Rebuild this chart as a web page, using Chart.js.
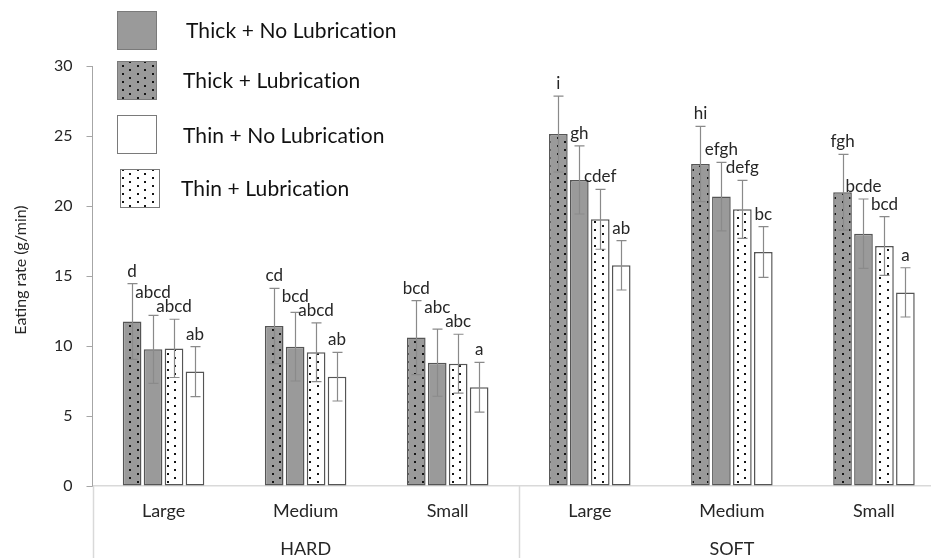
<!DOCTYPE html>
<html><head><meta charset="utf-8">
<script src="https://cdn.jsdelivr.net/npm/chart.js@4.4.1/dist/chart.umd.min.js"></script>
<style>
html,body{margin:0;padding:0;overflow:hidden;background:#fff;width:931px;height:558px}
canvas{display:block}
</style></head>
<body>
<canvas id="c" width="948" height="558"></canvas>
<script>
// ---- data ----
const categories = ['Large', 'Medium', 'Small', 'Large', 'Medium', 'Small'];
const groupNames = ['HARD', 'SOFT'];
const groupSizes = [3, 3];
const seriesNames = ['Thick + No Lubrication', 'Thick + Lubrication', 'Thin + No Lubrication', 'Thin + Lubrication'];
const yTicks = [0, 5, 10, 15, 20, 25, 30];
const yTitle = 'Eating rate (g/min)';

const thickLub = [11.75, 11.43, 10.60, 25.14, 23.00, 20.98];
const thickNoLub = [9.76, 9.95, 8.81, 21.86, 20.67, 18.02];
const thinLub = [9.83, 9.55, 8.74, 19.05, 19.76, 17.14];
const thinNoLub = [8.17, 7.81, 7.05, 15.76, 16.71, 13.83];

const thickLubErr = [2.70, 2.69, 2.64, 2.71, 2.69, 2.71];
const thickNoLubErr = [2.43, 2.45, 2.40, 2.43, 2.45, 2.48];
const thinLubErr = [2.08, 2.10, 2.10, 2.14, 2.07, 2.10];
const thinNoLubErr = [1.78, 1.74, 1.78, 1.76, 1.81, 1.76];

const thickLubLetters = ['d', 'cd', 'bcd', 'i', 'hi', 'fgh'];
const thickNoLubLetters = ['abcd', 'bcd', 'abc', 'gh', 'efgh', 'bcde'];
const thinLubLetters = ['abcd', 'abcd', 'abc', 'cdef', 'defg', 'bcd'];
const thinNoLubLetters = ['ab', 'ab', 'a', 'ab', 'bc', 'a'];

// ---- styling ----
const canvas = document.getElementById('c');
const ctx0 = canvas.getContext('2d');
const GRAY = '#9a9a9a';
function dotPattern(bg) {
  const t = document.createElement('canvas');
  t.width = 15; t.height = 8;
  const c = t.getContext('2d');
  c.fillStyle = bg; c.fillRect(0, 0, 15, 8);
  c.fillStyle = '#151515';
  c.fillRect(2, 1, 2, 2);
  c.fillRect(9, 5, 2, 2);
  return ctx0.createPattern(t, 'repeat');
}
const patDark = dotPattern(GRAY);
const patLight = dotPattern('#ffffff');

const FONT = 'Lato';
const TXT = '#262626';

// datasets in drawing order within each group
const order = [
  {name: seriesNames[1], data: thickLub, err: thickLubErr, letters: thickLubLetters, fill: patDark},
  {name: seriesNames[0], data: thickNoLub, err: thickNoLubErr, letters: thickNoLubLetters, fill: GRAY},
  {name: seriesNames[3], data: thinLub, err: thinLubErr, letters: thinLubLetters, fill: patLight},
  {name: seriesNames[2], data: thinNoLub, err: thinNoLubErr, letters: thinNoLubLetters, fill: '#ffffff'}
];

const extrasPlugin = {
  id: 'extras',
  afterDatasetsDraw(chart) {
    const ctx = chart.ctx, y = chart.scales.y;
    ctx.save();
    // error bars
    ctx.strokeStyle = '#8a8a8a';
    ctx.lineWidth = 1.2;
    order.forEach((s, di) => {
      chart.getDatasetMeta(di).data.forEach((bar, i) => {
        const v = s.data[i], e = s.err[i];
        const x = Math.round(bar.x) + 0.5;
        const y1 = y.getPixelForValue(v + e), y2 = y.getPixelForValue(v - e);
        ctx.beginPath();
        ctx.moveTo(x, y1); ctx.lineTo(x, y2);
        ctx.moveTo(x - 5, y1); ctx.lineTo(x + 5, y1);
        ctx.moveTo(x - 5, y2); ctx.lineTo(x + 5, y2);
        ctx.stroke();
      });
    });
    // significance letters
    ctx.font = '17px ' + FONT;
    ctx.fillStyle = TXT;
    ctx.textAlign = 'center';
    ctx.textBaseline = 'alphabetic';
    for (let i = 0; i < categories.length; i++) {
      const placed = [];
      for (let di = order.length - 1; di >= 0; di--) {
        const s = order[di];
        const bar = chart.getDatasetMeta(di).data[i];
        const txt = s.letters[i];
        const w = ctx.measureText(txt).width;
        let base = y.getPixelForValue(s.data[i] + s.err[i]) - 7;
        for (const p of placed) {
          if (bar.x - w / 2 < p.r && bar.x + w / 2 > p.l && base + 3 > p.t && base - 12 < p.b) {
            base = p.t - 2;
          }
        }
        ctx.fillText(txt, bar.x, base);
        placed.push({l: bar.x - w / 2, r: bar.x + w / 2, t: base - 12, b: base + 3});
      }
    }
    ctx.restore();
  },
  afterDraw(chart) {
    const ctx = chart.ctx, x = chart.scales.x, area = chart.chartArea;
    ctx.save();
    // lines below axis
    ctx.strokeStyle = '#d9d9d9';
    ctx.lineWidth = 1.5;
    let start = 0;
    const bounds = [area.left];
    groupSizes.forEach((n, g) => {
      const end = start + n;
      if (end < categories.length) {
        bounds.push((x.getPixelForValue(end - 1) + x.getPixelForValue(end)) / 2);
      }
      start = end;
    });
    bounds.forEach(b => {
      ctx.beginPath(); ctx.moveTo(Math.round(b) + 0.5, area.bottom); ctx.lineTo(Math.round(b) + 0.5, 558); ctx.stroke();
    });
    // group labels
    ctx.font = '18px ' + FONT;
    ctx.fillStyle = TXT;
    ctx.textAlign = 'center';
    ctx.textBaseline = 'middle';
    start = 0;
    groupSizes.forEach((n, g) => {
      const cx = (x.getPixelForValue(start) + x.getPixelForValue(start + n - 1)) / 2;
      ctx.fillText(groupNames[g], cx, 549);
      start += n;
    });
    // y title
    ctx.save();
    ctx.translate(21, 270);
    ctx.rotate(-Math.PI / 2);
    ctx.font = '16px ' + FONT;
    ctx.fillText(yTitle, 0, 0);
    ctx.restore();
    // legend
    const leg = [
      {fill: GRAY, bx: 117, by: 11, tx: 186, ty: 31, label: seriesNames[0]},
      {fill: patDark, bx: 117, by: 61, tx: 183, ty: 81, label: seriesNames[1]},
      {fill: '#ffffff', bx: 117, by: 115, tx: 183, ty: 136, label: seriesNames[2]},
      {fill: patLight, bx: 120, by: 169, tx: 181, ty: 189, label: seriesNames[3]}
    ];
    ctx.font = '21px ' + FONT;
    if ('letterSpacing' in ctx) ctx.letterSpacing = '0.1px';
    ctx.textAlign = 'left';
    ctx.textBaseline = 'middle';
    leg.forEach(l => {
      ctx.fillStyle = l.fill;
      ctx.fillRect(l.bx, l.by, 40, 39);
      ctx.strokeStyle = '#7a7a7a';
      ctx.lineWidth = 1;
      ctx.strokeRect(l.bx + 0.5, l.by + 0.5, 39, 38);
      ctx.fillStyle = '#111';
      ctx.fillText(l.label, l.tx, l.ty);
    });
    ctx.restore();
  }
};

new Chart(canvas, {
  type: 'bar',
  data: {
    labels: categories,
    datasets: order.map(s => ({
      label: s.name,
      data: s.data,
      backgroundColor: s.fill,
      borderColor: '#555555',
      borderWidth: 1.5,
      borderSkipped: false,
      categoryPercentage: 0.59,
      barPercentage: 0.89
    }))
  },
  options: {
    responsive: false,
    animation: false,
    devicePixelRatio: 1,
    layout: {padding: {top: 66, right: 3, left: 0, bottom: 0}},
    plugins: {legend: {display: false}, tooltip: {enabled: false}},
    scales: {
      x: {
        grid: {display: false, drawTicks: false},
        border: {display: true, color: '#d9d9d9', width: 1.5},
        ticks: {font: {family: FONT, size: 18}, color: TXT, padding: 14, maxRotation: 0},
        afterFit(s) { s.height = 72; }
      },
      y: {
        min: 0, max: 30,
        afterBuildTicks(s) { s.ticks = yTicks.map(v => ({value: v})); },
        grid: {drawOnChartArea: false, drawTicks: true, tickLength: 6, color: '#a6a6a6'},
        border: {display: true, color: '#a6a6a6', width: 1},
        ticks: {font: {family: FONT, size: 16}, color: TXT, padding: 14},
        afterFit(s) { s.width = 92.5; }
      }
    }
  },
  plugins: [extrasPlugin]
});
</script>
</body></html>
